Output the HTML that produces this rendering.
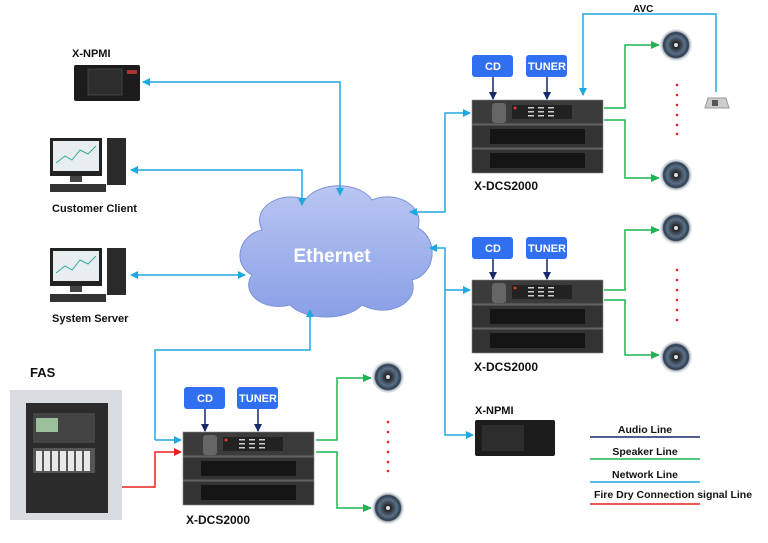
<!DOCTYPE html><html><head><style>body{margin:0;background:#fff}svg{display:block;font-family:"Liberation Sans",sans-serif;font-weight:bold}</style></head><body>
<svg width="768" height="543" viewBox="0 0 768 543">
<defs>
<marker id="b" markerWidth="8" markerHeight="8" refX="7" refY="4" orient="auto" markerUnits="userSpaceOnUse"><path d="M0,0L8,4L0,8z" fill="#1ea8e0"/></marker>
<marker id="bs" markerWidth="8" markerHeight="8" refX="1" refY="4" orient="auto" markerUnits="userSpaceOnUse"><path d="M8,0L0,4L8,8z" fill="#1ea8e0"/></marker>
<marker id="g" markerWidth="9" markerHeight="8" refX="8" refY="4" orient="auto" markerUnits="userSpaceOnUse"><path d="M0,0L9,4L0,8z" fill="#1db554"/></marker>
<marker id="n" markerWidth="8" markerHeight="8" refX="7" refY="4" orient="auto" markerUnits="userSpaceOnUse"><path d="M0,0L8,4L0,8z" fill="#14286a"/></marker>
<marker id="r" markerWidth="8" markerHeight="8" refX="7" refY="4" orient="auto" markerUnits="userSpaceOnUse"><path d="M0,0L8,4L0,8z" fill="#e8221e"/></marker>
<linearGradient id="cl" x1="0" y1="0" x2="0" y2="1"><stop offset="0" stop-color="#b9c6f2"/><stop offset="1" stop-color="#8aa0e6"/></linearGradient>
<radialGradient id="sp"><stop offset="0" stop-color="#fff"/><stop offset=".15" stop-color="#222"/><stop offset=".55" stop-color="#5a7088"/><stop offset=".78" stop-color="#2d3c4c"/><stop offset=".88" stop-color="#c8d0d8"/><stop offset="1" stop-color="#e8ecf0"/></radialGradient>
<g id="rack"><rect x="0" y="0" width="131" height="73" fill="#2a2a2a" rx="2"/><rect x="0" y="0" width="131" height="24" fill="#3b3b3b" stroke="#888" stroke-width=".6"/><rect x="0" y="25" width="131" height="23" fill="#333" stroke="#888" stroke-width=".6"/><rect x="0" y="49" width="131" height="24" fill="#333" stroke="#888" stroke-width=".6"/><rect x="18" y="29" width="95" height="15" fill="#151515"/><rect x="18" y="53" width="95" height="15" fill="#151515"/><rect x="20" y="3" width="14" height="20" fill="#666" rx="3"/><rect x="40" y="5" width="60" height="14" fill="#222"/><g fill="#ccc"><rect x="56" y="7" width="6" height="1.5"/><rect x="66" y="7" width="6" height="1.5"/><rect x="76" y="7" width="6" height="1.5"/><rect x="56" y="11" width="6" height="1.5"/><rect x="66" y="11" width="6" height="1.5"/><rect x="76" y="11" width="6" height="1.5"/><rect x="56" y="15" width="6" height="1.5"/><rect x="66" y="15" width="6" height="1.5"/><rect x="76" y="15" width="6" height="1.5"/></g><circle cx="43" cy="8" r="1.5" fill="#e33"/></g>
<g id="spk"><circle r="16" fill="url(#sp)"/><circle r="2" fill="#ddd"/></g>
<g id="btn"><rect x="0" y="0" width="41" height="22" rx="3" fill="#2f6ff0"/></g>
<g id="pc"><rect x="0" y="0" width="52" height="38" fill="#222"/><rect x="3" y="3" width="46" height="30" fill="#e8eef0"/><path d="M6,25 L15,18 22,22 30,12 38,16 46,8" stroke="#3a9" fill="none"/><rect x="20" y="38" width="12" height="6" fill="#444"/><rect x="0" y="46" width="56" height="8" fill="#333"/><rect x="57" y="0" width="19" height="47" fill="#2a2a2a"/></g>
</defs>

<path d="M262,230 C250,205 285,190 305,200 C320,180 360,182 372,200 C395,190 425,205 418,228 C440,240 435,275 412,280 C420,305 385,318 362,305 C345,322 305,320 290,305 C262,312 240,292 252,275 C232,265 238,235 262,230z" fill="url(#cl)" stroke="#7d92d8"/>
<text x="332" y="262" font-size="19" fill="#fff" text-anchor="middle">Ethernet</text>

<g stroke="#1ea8e0" stroke-width="1.5" fill="none">
<path d="M143,82 H340 V195" marker-start="url(#bs)" marker-end="url(#b)"/>
<path d="M131,170 H302 V205" marker-start="url(#bs)" marker-end="url(#b)"/>
<path d="M131,275 H245" marker-start="url(#bs)" marker-end="url(#b)"/>
<path d="M155,440 H181" marker-end="url(#b)"/>
<path d="M155,440 V350 H310 V310" marker-end="url(#b)"/>
<path d="M410,212 H445 V113 H470" marker-start="url(#bs)" marker-end="url(#b)"/>
<path d="M430,248 H445 V290 H470" marker-start="url(#bs)" marker-end="url(#b)"/>
<path d="M445,290 V435 H473" marker-end="url(#b)"/>
<path d="M716,92 V14 H583 V95" marker-end="url(#b)"/>
</g>
<g stroke="#1db554" stroke-width="1.5" fill="none">
<path d="M604,108 H625 V45 H659" marker-end="url(#g)"/>
<path d="M604,120 H625 V178 H659" marker-end="url(#g)"/>
<path d="M604,290 H625 V230 H659" marker-end="url(#g)"/>
<path d="M604,300 H625 V355 H659" marker-end="url(#g)"/>
<path d="M316,440 H337 V378 H371" marker-end="url(#g)"/>
<path d="M316,452 H337 V508 H371" marker-end="url(#g)"/>
</g>
<path d="M122,487 H155 V452 H181" stroke="#e8221e" stroke-width="1.5" fill="none" marker-end="url(#r)"/>
<g stroke="#14286a" stroke-width="1.5" marker-end="url(#n)">
<line x1="493" y1="77" x2="493" y2="99"/><line x1="547" y1="77" x2="547" y2="99"/>
<line x1="493" y1="259" x2="493" y2="279"/><line x1="547" y1="259" x2="547" y2="279"/>
<line x1="205" y1="409" x2="205" y2="431"/><line x1="258" y1="409" x2="258" y2="431"/>
</g>

<use href="#rack" x="472" y="100"/><use href="#rack" x="472" y="280"/><use href="#rack" x="183" y="432"/>
<use href="#btn" x="472" y="55"/><use href="#btn" x="526" y="55"/><use href="#btn" x="472" y="237"/><use href="#btn" x="526" y="237"/><use href="#btn" x="184" y="387"/><use href="#btn" x="237" y="387"/>
<g fill="#fff" font-size="11" text-anchor="middle"><text x="493" y="70">CD</text><text x="547" y="70">TUNER</text><text x="493" y="252">CD</text><text x="547" y="252">TUNER</text><text x="205" y="402">CD</text><text x="258" y="402">TUNER</text></g>

<use href="#spk" x="676" y="45"/><use href="#spk" x="676" y="175"/><use href="#spk" x="676" y="228"/><use href="#spk" x="676" y="357"/><use href="#spk" x="388" y="377"/><use href="#spk" x="388" y="508"/>
<g fill="#e8221e"><circle cx="677" cy="85" r="1.3"/><circle cx="677" cy="95" r="1.3"/><circle cx="677" cy="105" r="1.3"/><circle cx="677" cy="115" r="1.3"/><circle cx="677" cy="125" r="1.3"/><circle cx="677" cy="134" r="1.3"/>
<circle cx="677" cy="270" r="1.3"/><circle cx="677" cy="280" r="1.3"/><circle cx="677" cy="290" r="1.3"/><circle cx="677" cy="300" r="1.3"/><circle cx="677" cy="310" r="1.3"/><circle cx="677" cy="320" r="1.3"/>
<circle cx="388" cy="422" r="1.3"/><circle cx="388" cy="432" r="1.3"/><circle cx="388" cy="442" r="1.3"/><circle cx="388" cy="452" r="1.3"/><circle cx="388" cy="462" r="1.3"/><circle cx="388" cy="471" r="1.3"/></g>
<path d="M708,98 H726 L729,108 H705z" fill="#ccc" stroke="#999"/><rect x="712" y="100" width="6" height="6" fill="#555"/>

<rect x="74" y="65" width="66" height="36" fill="#1c1c1c" rx="2"/><rect x="88" y="69" width="34" height="26" fill="#2d2d2d" stroke="#555" stroke-width=".6"/><rect x="127" y="70" width="10" height="4" fill="#a33"/>
<rect x="475" y="420" width="80" height="36" fill="#1c1c1c" rx="2"/><rect x="482" y="425" width="42" height="26" fill="#2d2d2d"/>
<use href="#pc" x="50" y="138"/><use href="#pc" x="50" y="248"/>
<rect x="10" y="390" width="112" height="130" fill="#d8dce0"/><rect x="26" y="403" width="82" height="110" fill="#2b2b2b"/><rect x="33" y="413" width="62" height="30" fill="#444"/><rect x="36" y="418" width="22" height="14" fill="#9cbf9c"/><rect x="33" y="448" width="62" height="25" fill="#555"/><g fill="#e8e8e8"><rect x="36" y="451" width="6" height="20"/><rect x="44" y="451" width="6" height="20"/><rect x="52" y="451" width="6" height="20"/><rect x="60" y="451" width="6" height="20"/><rect x="68" y="451" width="6" height="20"/><rect x="76" y="451" width="6" height="20"/><rect x="84" y="451" width="6" height="20"/></g>

<g font-size="11" fill="#111">
<text x="72" y="57">X-NPMI</text><text x="52" y="212">Customer Client</text><text x="52" y="322">System Server</text><text x="30" y="377" font-size="13">FAS</text>
<text x="474" y="190" font-size="12">X-DCS2000</text><text x="474" y="371" font-size="12">X-DCS2000</text><text x="186" y="524" font-size="12">X-DCS2000</text>
<text x="475" y="414">X-NPMI</text><text x="633" y="12" font-size="10">AVC</text>
<g text-anchor="middle" font-size="10.5"><text x="645" y="433">Audio Line</text><text x="645" y="455">Speaker Line</text><text x="645" y="478">Network Line</text><text x="673" y="498">Fire Dry Connection signal Line</text></g>
</g>
<g stroke-width="1.5"><line x1="590" y1="437" x2="700" y2="437" stroke="#14286a"/><line x1="590" y1="459" x2="700" y2="459" stroke="#1db554"/><line x1="590" y1="482" x2="700" y2="482" stroke="#1ea8e0"/><line x1="590" y1="504" x2="700" y2="504" stroke="#e8221e"/></g>
</svg></body></html>
